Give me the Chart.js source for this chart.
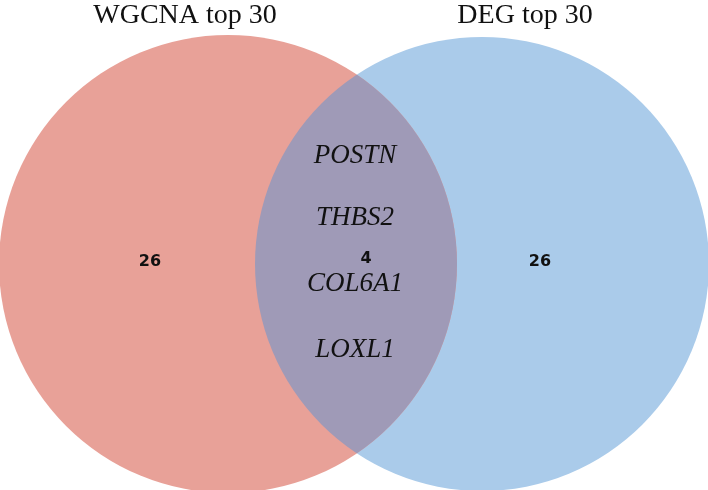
<!DOCTYPE html>
<html><head><meta charset="utf-8">
<script src="https://cdn.jsdelivr.net/npm/chart.js@4"></script>
<style>html,body{margin:0;padding:0;background:#fff}#w{width:708px;height:490px}</style>
</head><body><div id="w"><canvas id="c"></canvas></div>
<script>
const setNames = ["WGCNA top 30", "DEG top 30"];
const setCounts = [26, 26];
const sharedCount = 4;
const sharedGenes = ["POSTN", "THBS2", "COL6A1", "LOXL1"];

const lensPlugin = {
  id: 'venn',
  afterDatasetsDraw(chart) {
    const ctx = chart.ctx;
    const a = chart.getDatasetMeta(0).data[0];
    const b = chart.getDatasetMeta(1).data[0];
    const ra = a.options.radius, rb = b.options.radius;
    ctx.save();
    ctx.beginPath(); ctx.arc(a.x, a.y, ra, 0, Math.PI * 2); ctx.clip();
    ctx.beginPath(); ctx.arc(b.x, b.y, rb, 0, Math.PI * 2);
    ctx.fillStyle = '#9f9ab7'; ctx.fill();
    ctx.restore();
    ctx.save();
    ctx.fillStyle = '#111'; ctx.textAlign = 'center'; ctx.textBaseline = 'middle';
    ctx.font = '28px "Liberation Serif", "Times New Roman", serif';
    ctx.fillText(setNames[0], 185, 16);
    ctx.fillText(setNames[1], 525, 16);
    ctx.font = 'bold 16px "DejaVu Sans", sans-serif';
    ctx.fillText(String(setCounts[0]), 150, 262);
    ctx.fillText(String(setCounts[1]), 540, 262);
    ctx.fillText(String(sharedCount), 366, 259);
    ctx.font = 'italic 27px "Liberation Serif", "Times New Roman", serif';
    const ys = [156, 218, 284, 350];
    sharedGenes.forEach((g, i) => ctx.fillText(g, 355, ys[i]));
    ctx.restore();
  }
};

new Chart(document.getElementById('c'), {
  type: 'bubble',
  data: {
    datasets: [
      { data: [{ x: 228, y: 264, r: 229 }], backgroundColor: '#e8a198', borderWidth: 0 },
      { data: [{ x: 482, y: 264, r: 227 }], backgroundColor: '#aacbea', borderWidth: 0 }
    ]
  },
  options: {
    responsive: true, maintainAspectRatio: false, animation: false,
    layout: { padding: 0, autoPadding: false },
    plugins: { legend: { display: false }, tooltip: { enabled: false } },
    scales: {
      x: { type: 'linear', min: 0, max: 708, display: false },
      y: { type: 'linear', min: 0, max: 490, reverse: true, display: false }
    },
    clip: false
  },
  plugins: [lensPlugin]
});
</script></body></html>
